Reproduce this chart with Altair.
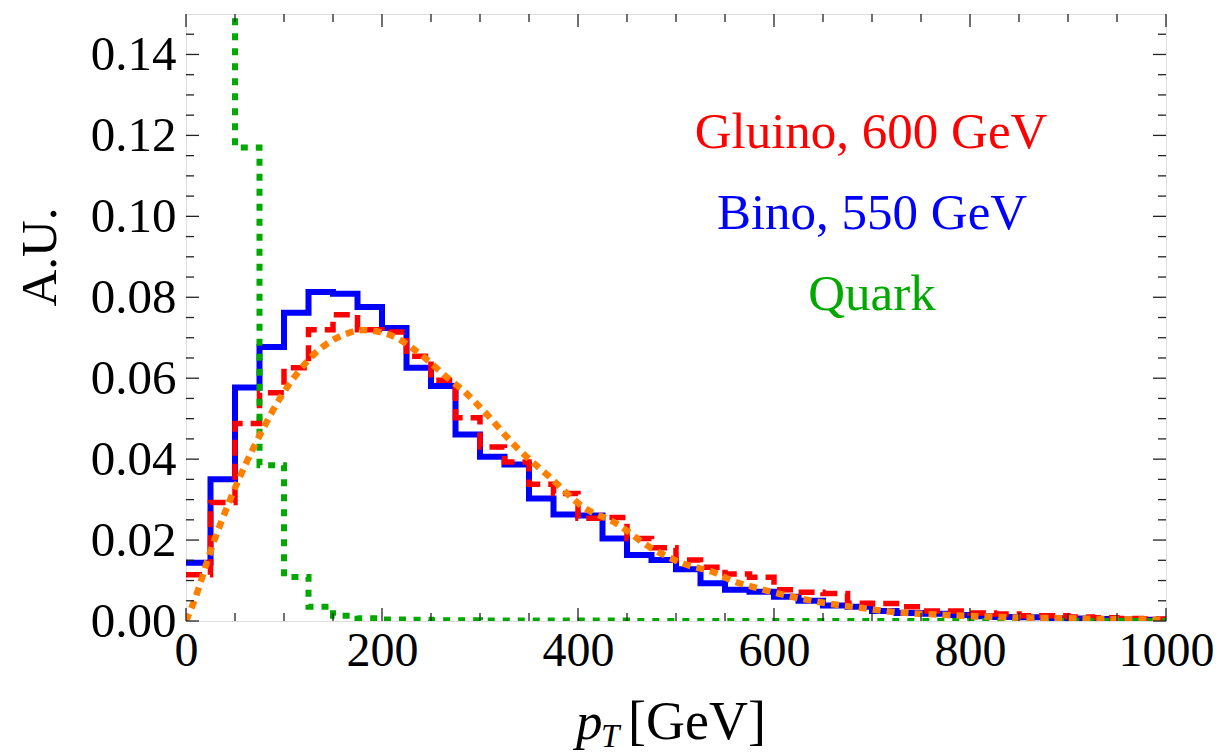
import altair as alt
import pandas as pd

# ---------------- data ----------------
bin_edges = [i * 25 for i in range(40)]  # left edges of 25 GeV bins, last bin ends at 1000

bino_550 = [0.0144, 0.0350, 0.0577, 0.0677, 0.0762, 0.0813, 0.0809, 0.0776, 0.0724, 0.0626,
            0.0581, 0.0461, 0.0406, 0.0387, 0.0303, 0.0263, 0.0261, 0.0204, 0.0163, 0.0151,
            0.0128, 0.0093, 0.0077, 0.0072, 0.0060, 0.0050, 0.0038, 0.0035, 0.0025, 0.0020,
            0.0018, 0.0015, 0.0012, 0.0010, 0.0009, 0.0007, 0.0006, 0.0005, 0.0004, 0.0003]

gluino_600 = [0.0114, 0.0293, 0.0488, 0.0564, 0.0626, 0.0720, 0.0757, 0.0720, 0.0714, 0.0654,
              0.0595, 0.0502, 0.0430, 0.0393, 0.0338, 0.0315, 0.0254, 0.0256, 0.0204, 0.0181,
              0.0151, 0.0133, 0.0116, 0.0108, 0.0077, 0.0071, 0.0068, 0.0044, 0.0043, 0.0035,
              0.0025, 0.0025, 0.0020, 0.0017, 0.0013, 0.0013, 0.0010, 0.0008, 0.0006, 0.0005]

# first two quark bins are far above the plot range (clipped in the reference)
quark = [0.3000, 0.3500, 0.1170, 0.0385, 0.0109, 0.0035, 0.0013, 0.0007, 0.0004, 0.0003,
         0.0002, 0.0002, 0.0001, 0.0001, 0.0001, 0.0001, 0.0001, 0.0001, 0.0000, 0.0000,
         0.0000, 0.0000, 0.0000, 0.0000, 0.0000, 0.0000, 0.0000, 0.0000, 0.0000, 0.0000,
         0.0000, 0.0000, 0.0000, 0.0000, 0.0000, 0.0000, 0.0000, 0.0000, 0.0000, 0.0000]

fit_pt = [0, 7.5, 27.8, 44.9, 61.9, 78.9, 95.8, 112.8, 129.8, 146.8, 163.8, 180.7, 197.8,
          214.8, 231.7, 248.7, 265.8, 282.7, 303, 337, 371, 405, 439, 473, 507, 541, 554,
          588, 622, 656, 690, 724, 758, 792, 826, 860, 894, 928, 962, 1000]
fit_val = [0.0, 0.0044, 0.0192, 0.0299, 0.0393, 0.0476, 0.0550, 0.0610, 0.0657, 0.0690,
           0.0710, 0.0719, 0.0714, 0.0700, 0.0673, 0.0640, 0.0603, 0.0570, 0.0521, 0.0430,
           0.0356, 0.0282, 0.0241, 0.0183, 0.0142, 0.0118, 0.0103, 0.0078, 0.0058, 0.0043,
           0.0032, 0.0022, 0.0017, 0.0013, 0.0010, 0.0008, 0.0007, 0.0005, 0.0004, 0.0003]

x_major = [0, 200, 400, 600, 800, 1000]
x_minor = [v for v in range(50, 1000, 50) if v % 200 != 0]
y_major = [0.0, 0.02, 0.04, 0.06, 0.08, 0.10, 0.12, 0.14]
y_minor = [round(k * 0.005, 3) for k in range(1, 30) if k % 4 != 0]

# ---------------- layout ----------------
W, H = 980, 607
FONT = "Liberation Serif"
x_scale = alt.Scale(domain=[0, 1000], nice=False, zero=False)
y_scale = alt.Scale(domain=[0, 0.15], nice=False, zero=False)


def step_frame(vals):
    xs = bin_edges + [1000]
    ys = vals + [vals[-1]]
    return pd.DataFrame({"pt": xs, "v": ys})


def step_layer(vals, color, width, dash=None):
    kw = dict(interpolate="step-after", color=color, strokeWidth=width, clip=True,
              strokeCap="butt", strokeJoin="miter")
    if dash:
        kw["strokeDash"] = dash
    return alt.Chart(step_frame(vals)).mark_line(**kw).encode(
        x=alt.X("pt:Q", scale=x_scale),
        y=alt.Y("v:Q", scale=y_scale),
    )


base_axes = alt.Chart(step_frame(bino_550)).mark_line(
    interpolate="step-after", color="#0000ff", strokeWidth=6, clip=True, strokeJoin="miter"
).encode(
    x=alt.X("pt:Q", scale=x_scale,
            axis=alt.Axis(values=x_major, format="d", title=None, ticks=False, domain=False,
                          grid=False, labelFont=FONT, labelFontSize=48, labelColor="black",
                          labelPadding=6, labelFlush=False)),
    y=alt.Y("v:Q", scale=y_scale,
            axis=alt.Axis(values=y_major, format=".2f", title=None, ticks=False, domain=False,
                          grid=False, labelFont=FONT, labelFontSize=49, labelColor="black",
                          labelPadding=10, labelFlush=False, labelBaseline="middle")),
)

red = step_layer(gluino_600, "#ff0000", 5.5, [16, 8])
green = step_layer(quark, "#00a800", 6, [7, 8])

orange = alt.Chart(pd.DataFrame({"pt": fit_pt, "v": fit_val})).mark_line(
    interpolate="monotone", color="#ff8000", strokeWidth=6.5, strokeDash=[8, 6], clip=True
).encode(x=alt.X("pt:Q", scale=x_scale), y=alt.Y("v:Q", scale=y_scale))

# inward frame ticks
tick_col = "#222222"
xmaj_df = pd.DataFrame({"t": x_major})
xmin_df = pd.DataFrame({"t": x_minor})
ymaj_df = pd.DataFrame({"t": y_major})
ymin_df = pd.DataFrame({"t": y_minor})


def xticks(df, L):
    b = alt.Chart(df).mark_rule(color=tick_col, strokeWidth=1.3).encode(
        x=alt.X("t:Q", scale=x_scale), y=alt.value(H), y2=alt.value(H - L))
    t = alt.Chart(df).mark_rule(color=tick_col, strokeWidth=1.3).encode(
        x=alt.X("t:Q", scale=x_scale), y=alt.value(0), y2=alt.value(L))
    return [b, t]


def yticks(df, L):
    l = alt.Chart(df).mark_rule(color=tick_col, strokeWidth=1.3).encode(
        y=alt.Y("t:Q", scale=y_scale), x=alt.value(0), x2=alt.value(L))
    r = alt.Chart(df).mark_rule(color=tick_col, strokeWidth=1.3).encode(
        y=alt.Y("t:Q", scale=y_scale), x=alt.value(W), x2=alt.value(W - L))
    return [l, r]


ticks = xticks(xmaj_df, 13) + xticks(xmin_df, 8) + yticks(ymaj_df, 13) + yticks(ymin_df, 8)

one = pd.DataFrame({"k": [0]})


def label(text, x, y, color="black", size=51, style="normal", align="center",
          baseline="alphabetic", angle=0):
    return alt.Chart(one).mark_text(
        text=text, font=FONT, fontSize=size, fontStyle=style, color=color, align=align,
        baseline=baseline, angle=angle
    ).encode(x=alt.value(x), y=alt.value(y))


texts = [
    label("Gluino, 600 GeV", 685, 134, color="#ff0000"),
    label("Bino, 550 GeV", 686, 215, color="#0000ff"),
    label("Quark", 686, 296, color="#00a800"),
    label("A.U.", -145, 243, size=51, angle=270, baseline="middle"),
    label("p", 390, 725, size=53, style="italic", align="left"),
    label("T", 415, 733, size=33, style="italic", align="left"),
    label("[GeV]", 442, 725, size=54, align="left"),
]

chart = alt.layer(base_axes, red, green, orange, *ticks, *texts).properties(
    width=W, height=H,
    autosize=alt.AutoSizeParams(type="none"),
    padding={"left": 186, "top": 14, "right": 55, "bottom": 133},
).configure_view(stroke="#888888", strokeWidth=1.6).configure(background="white")

chart.save("out.html", embed_options={"renderer": "svg", "actions": False})
